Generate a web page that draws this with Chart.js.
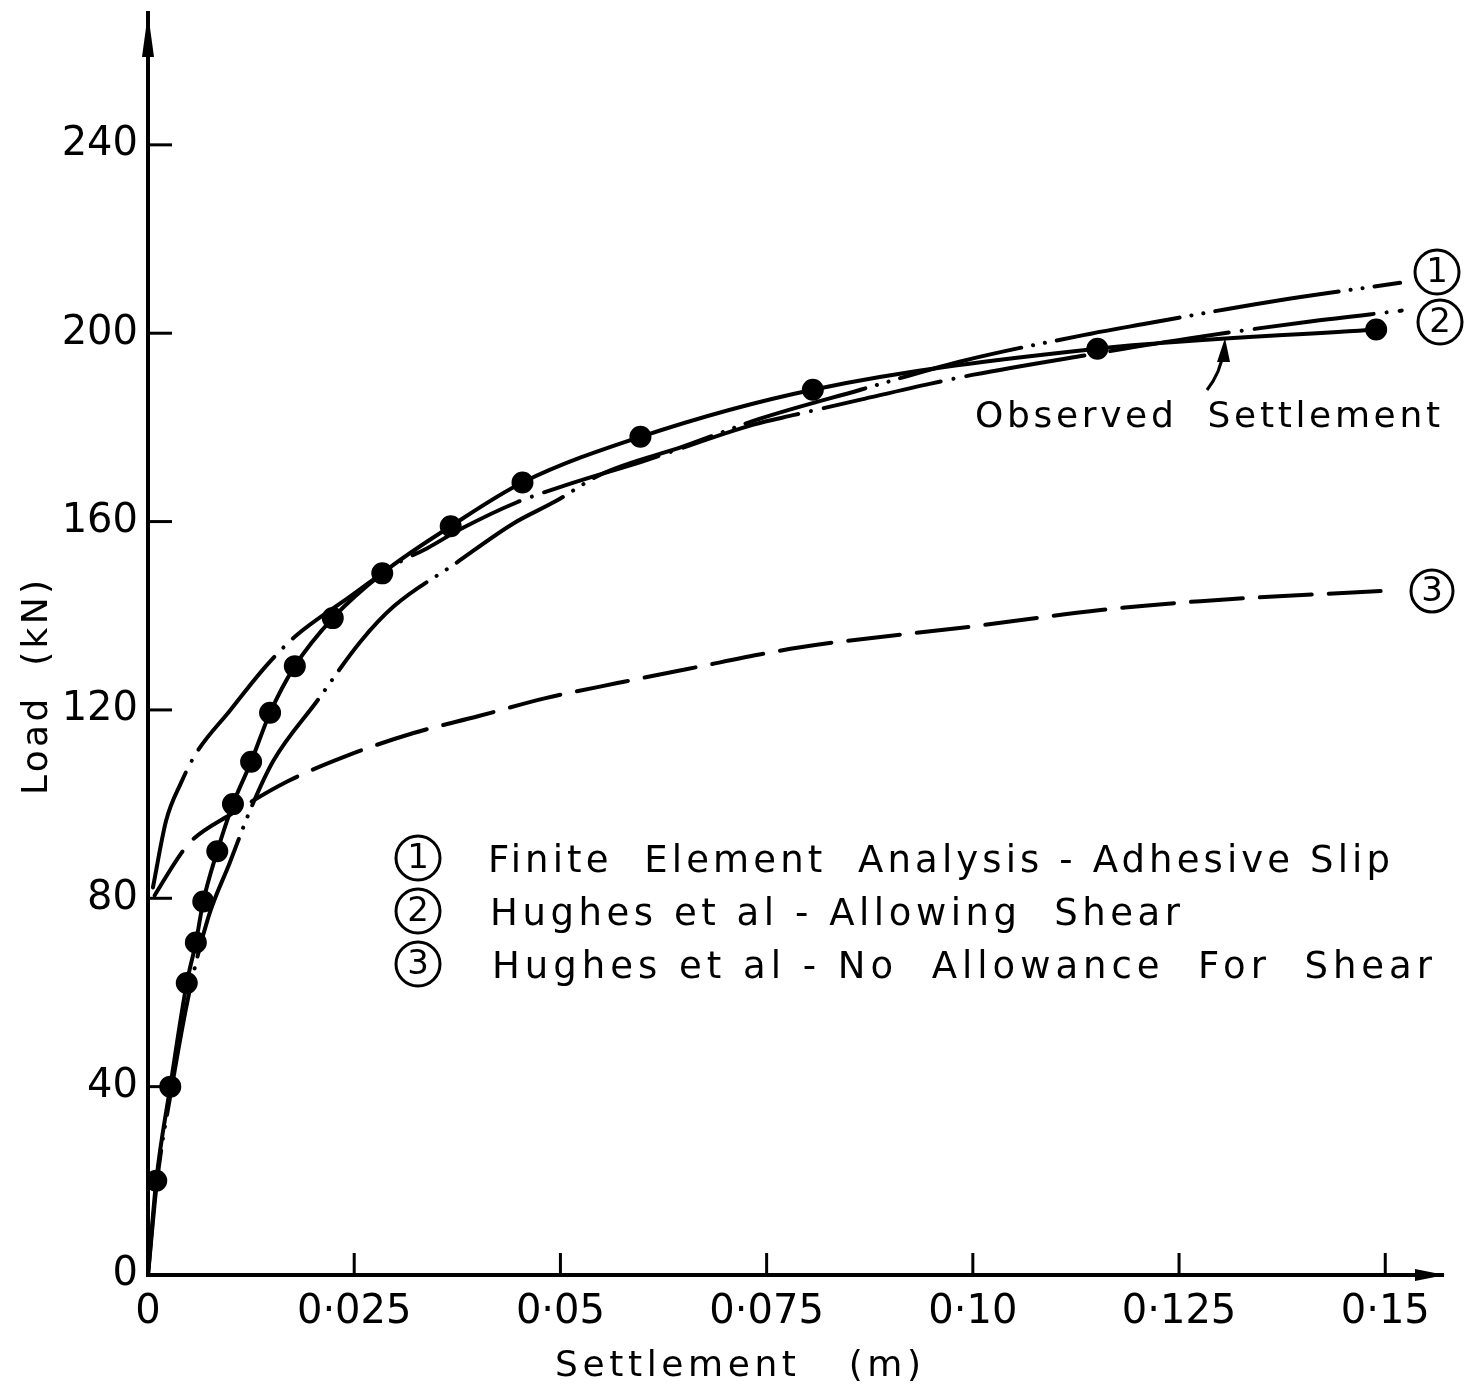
<!DOCTYPE html>
<html>
<head>
<meta charset="utf-8">
<title>Load – Settlement</title>
<script src="https://cdn.jsdelivr.net/npm/chart.js@4.4.1/dist/chart.umd.min.js"></script>
<style>
  html, body { margin: 0; padding: 0; background: #fff; }
  #wrap { width: 1477px; height: 1386px; position: relative; }
</style>
</head>
<body>
<div id="wrap"><canvas id="loadChart"></canvas></div>
<script>
// axis ticks
const xTicks = [0, 0.025, 0.05, 0.075, 0.1, 0.125, 0.15];
const xTickLabels = ['0', '0·025', '0·05', '0·075', '0·10', '0·125', '0·15'];
const yTicks = [0, 40, 80, 120, 160, 200, 240];

// observed settlement (m) against load (kN)
const observedX = [0, 0.001, 0.0027, 0.0047, 0.0058, 0.0067, 0.0084, 0.0103, 0.0125, 0.0148, 0.0178, 0.0224, 0.0284, 0.0367, 0.0454, 0.0597, 0.0806, 0.1151, 0.1489];
const observedY = [0, 20, 40, 62, 70.6, 79.3, 90, 100, 109, 119.4, 129.3, 139.5, 149, 159, 168.3, 178, 188, 196.7, 200.8];

// (1) finite element analysis - adhesive slip
const feX = [0, 0.0011, 0.0029, 0.005, 0.0073, 0.0099, 0.0125, 0.0152, 0.0205, 0.0258, 0.0298, 0.0371, 0.0443, 0.0494, 0.0549, 0.065, 0.0743, 0.0864, 0.0985, 0.1143, 0.1209, 0.1361, 0.1518];
const feY = [0, 20, 40, 60, 75.9, 87.5, 99.2, 109.2, 121.9, 134.6, 142, 150.9, 159.6, 164.3, 170, 176, 181.9, 188, 194, 199.9, 202, 206.7, 210.7];

// (2) Hughes et al - allowing shear
const shearX = [0.0006, 0.0022, 0.004, 0.0058, 0.01, 0.0143, 0.0179, 0.0237, 0.0307, 0.0338, 0.0379, 0.0446, 0.0513, 0.06, 0.0734, 0.0785, 0.0864, 0.0949, 0.1001, 0.1143, 0.1262, 0.1409, 0.152];
const shearY = [82.3, 96.5, 104.5, 110.7, 120, 129.3, 135.7, 143.1, 151.6, 154.3, 158.4, 164, 168.1, 172.8, 180.6, 182.7, 185.9, 189.3, 191.2, 195.5, 198.9, 202.5, 204.8];

// (3) Hughes et al - no allowance for shear
const noShearX = [0.0008, 0.004, 0.0055, 0.01, 0.017, 0.024, 0.0322, 0.0401, 0.0482, 0.0569, 0.0654, 0.0791, 0.1003, 0.1155, 0.1276, 0.15];
const noShearY = [80.6, 89.5, 92.6, 97.8, 104.9, 110.2, 115.1, 118.7, 122.5, 125.7, 128.7, 133.3, 137.8, 141.2, 143.1, 145.3];

const legendRows = [
  'Finite  Element  Analysis - Adhesive Slip',
  'Hughes et al - Allowing  Shear',
  'Hughes et al - No  Allowance  For  Shear'
];

const FONT = "'DejaVu Sans', sans-serif";

function toPoints(xs, ys) {
  return xs.map((x, i) => ({ x: x, y: ys[i] }));
}

// draws text stretched to a given width by spreading the letters
function spacedText(ctx, str, x, y, width) {
  ctx.letterSpacing = '0px';
  const w = ctx.measureText(str).width;
  const gap = str.length > 1 ? Math.max(0, (width - w) / (str.length - 1)) : 0;
  ctx.letterSpacing = gap + 'px';
  ctx.textAlign = 'left';
  ctx.fillText(str, x, y);
  ctx.letterSpacing = '0px';
}

function circledNumber(ctx, n, cx, cy, r) {
  ctx.beginPath();
  ctx.lineWidth = 3;
  ctx.arc(cx, cy, r, 0, Math.PI * 2);
  ctx.stroke();
  ctx.font = '34px ' + FONT;
  ctx.textAlign = 'center';
  ctx.textBaseline = 'middle';
  ctx.fillText(String(n), cx, cy + 1);
  ctx.textBaseline = 'alphabetic';
}

// inward ticks, axis arrows, titles and the hand lettered notes
const drawingExtras = {
  id: 'drawingExtras',
  afterDraw(chart) {
    const { ctx, chartArea: a, scales: { x, y } } = chart;
    ctx.save();
    ctx.strokeStyle = '#000';
    ctx.fillStyle = '#000';
    ctx.lineCap = 'butt';

    ctx.lineWidth = 3;
    yTicks.slice(1).forEach(v => {
      const py = y.getPixelForValue(v);
      ctx.beginPath();
      ctx.moveTo(a.left, py);
      ctx.lineTo(a.left + 24, py);
      ctx.stroke();
    });
    xTicks.slice(1).forEach(v => {
      const px = x.getPixelForValue(v);
      ctx.beginPath();
      ctx.moveTo(px, a.bottom);
      ctx.lineTo(px, a.bottom - 22);
      ctx.stroke();
    });

    // arrow heads
    ctx.beginPath();
    ctx.moveTo(a.left, a.top);
    ctx.lineTo(a.left - 6, a.top + 44);
    ctx.lineTo(a.left + 6, a.top + 44);
    ctx.closePath();
    ctx.fill();
    ctx.beginPath();
    ctx.moveTo(a.right + 2, a.bottom);
    ctx.lineTo(a.right - 28, a.bottom - 6);
    ctx.lineTo(a.right - 28, a.bottom + 6);
    ctx.closePath();
    ctx.fill();

    // axis titles
    ctx.font = '36px ' + FONT;
    ctx.textBaseline = 'alphabetic';
    spacedText(ctx, 'Settlement   (m)', 555, 1376, 366);
    ctx.save();
    ctx.translate(47, 795);
    ctx.rotate(-Math.PI / 2);
    spacedText(ctx, 'Load  (kN)', 0, 0, 215);
    ctx.restore();

    // key
    const rowY = [858, 911, 964];
    const textX = [488, 490, 492];
    const textW = [902, 690, 940];
    legendRows.forEach((t, i) => {
      circledNumber(ctx, i + 1, 418, rowY[i], 22);
      ctx.font = '37px ' + FONT;
      spacedText(ctx, t, textX[i], rowY[i] + 14, textW[i]);
    });

    // curve labels at the right-hand ends
    circledNumber(ctx, 1, 1437, 272, 22);
    circledNumber(ctx, 2, 1440, 322, 22);
    circledNumber(ctx, 3, 1432, 591, 21);

    // note pointing at the observed curve
    ctx.font = '36px ' + FONT;
    spacedText(ctx, 'Observed  Settlement', 975, 427, 465);
    ctx.lineWidth = 3;
    ctx.beginPath();
    ctx.moveTo(1207, 390);
    ctx.quadraticCurveTo(1221, 372, 1223, 352);
    ctx.stroke();
    ctx.beginPath();
    ctx.moveTo(1225, 338);
    ctx.lineTo(1217, 362);
    ctx.lineTo(1230, 362);
    ctx.closePath();
    ctx.fill();

    ctx.restore();
  }
};

new Chart(document.getElementById('loadChart'), {
  type: 'line',
  data: {
    datasets: [
      {
        label: 'Observed Settlement',
        data: toPoints(observedX, observedY),
        borderColor: '#000',
        borderWidth: 4,
        backgroundColor: '#000',
        pointBackgroundColor: '#000',
        pointBorderColor: '#000',
        pointRadius: c => (c.dataIndex === 0 ? 0 : 9),
        cubicInterpolationMode: 'monotone',
        fill: false
      },
      {
        label: 'Finite Element Analysis - Adhesive Slip',
        data: toPoints(feX, feY),
        borderColor: '#000',
        borderWidth: 4,
        borderDash: [125, 12, 0.1, 12, 0.1, 12],
        borderCapStyle: 'round',
        pointRadius: 0,
        cubicInterpolationMode: 'monotone',
        fill: false
      },
      {
        label: 'Hughes et al - Allowing Shear',
        data: toPoints(shearX, shearY),
        borderColor: '#000',
        borderWidth: 4,
        borderDash: [120, 13, 0.1, 13],
        borderCapStyle: 'round',
        pointRadius: 0,
        cubicInterpolationMode: 'monotone',
        fill: false
      },
      {
        label: 'Hughes et al - No Allowance For Shear',
        data: toPoints(noShearX, noShearY),
        borderColor: '#000',
        borderWidth: 4,
        borderDash: [52, 17],
        borderCapStyle: 'round',
        pointRadius: 0,
        cubicInterpolationMode: 'monotone',
        fill: false
      }
    ]
  },
  options: {
    responsive: true,
    maintainAspectRatio: false,
    animation: false,
    layout: { padding: { top: 10, right: 34, left: 0, bottom: 0 } },
    plugins: {
      legend: { display: false },
      tooltip: { enabled: false }
    },
    scales: {
      x: {
        type: 'linear',
        min: 0,
        max: 0.157,
        afterBuildTicks: s => { s.ticks = xTicks.map(v => ({ value: v })); },
        afterFit: s => { s.height = 111; s.paddingLeft = 0; s.paddingRight = 0; },
        border: { color: '#000', width: 4 },
        grid: { drawOnChartArea: false, drawTicks: false },
        ticks: {
          color: '#000',
          font: { family: FONT, size: 40 },
          padding: 14,
          maxRotation: 0,
          autoSkip: false,
          callback: (v, i) => xTickLabels[i]
        }
      },
      y: {
        type: 'linear',
        min: 0,
        max: 268,
        afterBuildTicks: s => { s.ticks = yTicks.map(v => ({ value: v })); },
        afterFit: s => { s.width = 148; s.paddingTop = 0; s.paddingBottom = 0; },
        border: { color: '#000', width: 4 },
        grid: { drawOnChartArea: false, drawTicks: false },
        ticks: {
          color: '#000',
          font: { family: FONT, size: 40 },
          padding: 10,
          autoSkip: false,
          callback: v => String(v)
        }
      }
    }
  },
  plugins: [drawingExtras]
});
</script>
</body>
</html>
